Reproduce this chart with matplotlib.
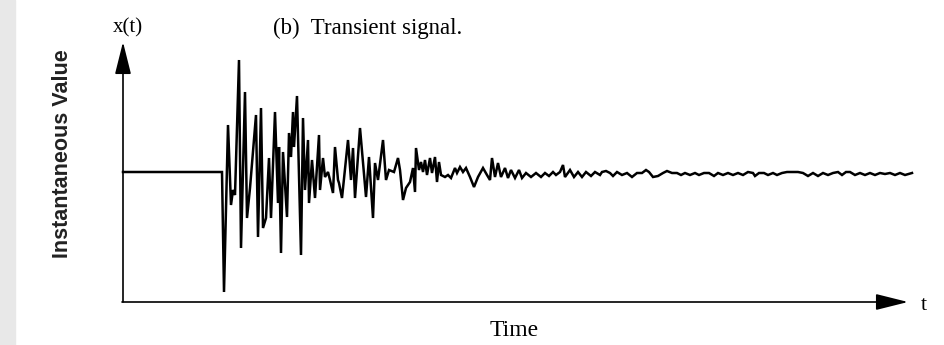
import matplotlib.pyplot as plt
from matplotlib.patches import Rectangle

# signal: time (arbitrary units, origin at the y axis)
# and instantaneous value (0 = resting level)
time = [0, 99, 101, 105, 108, 110, 112, 116, 118, 122, 124, 127, 133, 135, 138,
        140, 143, 146, 148, 152, 155, 156, 158, 160, 164, 166, 168, 170, 171,
        174, 178, 180, 182, 185, 186, 189, 192, 196, 197, 200, 202, 205, 207,
        210, 212, 215, 216, 219, 225, 228, 230, 232, 237, 243, 246, 250, 252,
        255, 260, 263, 266, 271, 275, 277, 280, 283, 287, 290, 292, 293, 296,
        298, 300, 302, 304, 307, 309, 312, 314, 316, 318, 322, 325, 328, 332,
        334, 337, 340, 343, 347, 351, 355, 360, 364, 367, 369, 372, 375, 378,
        382, 385, 388, 392, 396, 399, 403, 408, 413, 418, 422, 426, 430, 433,
        437, 440, 442, 447, 451, 455, 459, 463, 468, 472, 477, 479, 483, 487,
        490, 494, 499, 504, 509, 514, 519, 523, 526, 530, 535, 540, 544, 549,
        554, 558, 562, 567, 572, 576, 581, 586, 591, 595, 600, 605, 610, 615,
        620, 625, 630, 632, 636, 641, 645, 650, 654, 659, 664, 669, 675, 680,
        685, 690, 695, 700, 705, 710, 715, 719, 723, 727, 732, 737, 742, 747,
        752, 757, 762, 767, 772, 777, 782, 789]
value = [0, 0, -120, 47, -33, -18, -23, 112, -76, 80, -46, -16, 57, -65, 64,
         -56, -46, 14, -46, 60, -31, 25, -81, 20, -45, 39, 15, 60, 25,
         76, -83, 54, -18, 32, -31, 12, -26, 37, -18, 14, -5, 0, -8,
         -21, 25, -8, -11, -26, 32, -8, 24, -26, 44, -25, 15, -46, 9,
         -8, 32, -8, 2, 0, 14, 2, -28, -16, -10, 4, -20, 24, 2,
         10, 0, 12, -3, 14, -1, 15, -10, 10, -3, -5, -3, -6, 4,
         -1, 5, 0, 4, -5, -15, -5, 4, -3, -8, 14, -5, 9, -5,
         4, -6, 2, -6, 2, -6, -1, -5, -1, -5, -1, -4, 0, -3,
         0, 7, -5, 2, -5, 0, -5, 0, -4, 0, -3, 0, 1, -1,
         -4, 0, -3, -1, -5, -1, -1, 2, 0, -5, -4, -1, 1, -1,
         -1, -3, -1, -3, -1, -3, -1, -1, -4, -1, -3, -1, -3, -1,
         -3, 0, -1, -4, -1, -1, -3, -1, -3, -1, 0, 0, 0, -1,
         -4, -1, -4, -1, -3, -1, 0, -3, 0, 0, -3, -1, -3, -1,
         -3, -1, -2, -1, -3, -1, -3, -1]

y_min, y_max = -130, 130   # extent of the drawn value axis
t_end = 785                # tip of the time axis

fig = plt.figure(figsize=(9.44, 3.45), dpi=100)
ax = fig.add_axes([0, 0, 1, 1])
ax.set_xlim(-123, 821)
ax.set_ylim(-173, 172)
ax.axis('off')

# grey strip on the left edge of the slide
fig.patches.append(Rectangle((0, 0), 15 / 944, 1, transform=fig.transFigure,
                             color='#e8e8e8', zorder=0))

ax.plot(time, value, color='black', lw=1.8, solid_joinstyle='miter')

arrow = dict(arrowstyle='-|>,head_length=1.0,head_width=0.25', color='black',
             lw=1.2, mutation_scale=20, shrinkA=0, shrinkB=0)
ax.annotate('', xy=(0, y_max), xytext=(0, y_min), arrowprops=arrow)
ax.annotate('', xy=(t_end, y_min), xytext=(-1, y_min), arrowprops=arrow)

serif = 'Liberation Serif'
ax.text(-10, 144, 'x(t)', family=serif, fontsize=15, ha='left', va='center')
ax.text(150, 144, '(b)  Transient signal.', family=serif, fontsize=16.5,
        ha='left', va='center')
ax.text(t_end + 13, y_min - 3, 't', family=serif, fontsize=16, ha='left',
        va='center')
ax.text(391, -158, 'Time', family=serif, fontsize=17, ha='center', va='center')
ax.text(-60, 18, 'Instantaneous Value', family='Liberation Sans',
        fontweight='bold', fontsize=15.5, rotation=90, ha='center',
        va='center', color='#222222')

fig.savefig('out.png', dpi=100)
